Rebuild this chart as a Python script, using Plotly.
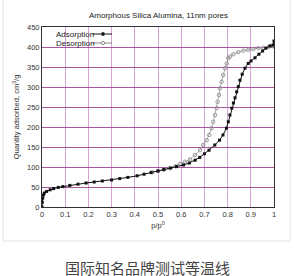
import plotly.graph_objects as go

# ---- data ----
ads_x = [0, 0.001, 0.003, 0.006, 0.01, 0.02, 0.035, 0.05, 0.07, 0.09, 0.12, 0.155, 0.19,
         0.225, 0.26, 0.3, 0.335, 0.37, 0.41, 0.44, 0.47, 0.5, 0.525, 0.555, 0.58, 0.61,
         0.635, 0.66, 0.68, 0.7, 0.72, 0.745, 0.765, 0.78, 0.795, 0.803, 0.81, 0.818,
         0.825, 0.832, 0.839, 0.846, 0.853, 0.863, 0.875, 0.889, 0.901, 0.918, 0.935,
         0.951, 0.965, 0.983, 0.996, 1.0]
ads_y = [0, 12, 22, 30, 35, 39, 43, 46, 49, 51, 54, 57, 60,
         62.5, 65, 67.5, 71, 74, 78, 82, 86, 90, 94, 97.5, 101, 105,
         110, 117, 124, 133, 142, 155, 167, 180, 197, 213, 230, 247,
         260, 273, 288, 301, 317, 332, 347, 359, 365, 373, 382,
         390, 397, 403, 405, 415]

des_x = [1.0, 0.976, 0.954, 0.933, 0.911, 0.889, 0.868, 0.846, 0.825, 0.81, 0.803,
         0.796, 0.789, 0.781, 0.774, 0.767, 0.763, 0.757, 0.753, 0.746, 0.738, 0.731,
         0.721, 0.71, 0.695, 0.681, 0.659, 0.638, 0.616, 0.595, 0.575, 0.55, 0.525,
         0.5, 0.475]
des_y = [401, 400, 398, 397, 395, 393, 391, 387, 382, 376, 372,
         359, 347, 330, 313, 297, 280, 263, 247, 230, 213, 197,
         180, 167, 155, 142, 130, 119, 113, 108, 102, 97, 93,
         90, 87]

x_ticks = [0, 0.1, 0.2, 0.3, 0.4, 0.5, 0.6, 0.7, 0.8, 0.9, 1]
x_tick_text = ["0", "0.1", "0.2", "0.3", "0.4", "0.5", "0.6", "0.7", "0.8", "0.9", "1"]
y_ticks = [0, 50, 100, 150, 200, 250, 300, 350, 400, 450]

title_text = "Amorphous Silica Alumina, 11nm pores"
x_title = "p/p<sup>0</sup>"
y_title = "Quantity adsorbed, cm<sup>3</sup>/g"
legend_names = ["Adsorption", "Desorption"]
caption = "国际知名品牌测试等温线"

FONT = "Liberation Sans, Arial, sans-serif"

fig = go.Figure()
fig.add_trace(go.Scatter(
    x=des_x, y=des_y, mode="lines+markers", name=legend_names[1],
    line=dict(color="#9a9a9a", width=0.8),
    marker=dict(symbol="circle-open", size=3.5, color="#8f8f8f", line=dict(width=0.9)),
    showlegend=False,
))
fig.add_trace(go.Scatter(
    x=ads_x, y=ads_y, mode="lines+markers", name=legend_names[0],
    line=dict(color="#111111", width=1),
    marker=dict(symbol="square", size=3, color="#111111"),
    showlegend=False,
))

fig.update_xaxes(
    range=[0, 1], tickvals=x_ticks, ticktext=x_tick_text,
    showgrid=True, gridcolor="#d7a3d7", gridwidth=1,
    showline=True, linecolor="#333333", linewidth=1, mirror=True,
    ticks="", zeroline=False,
    tickfont=dict(family=FONT, size=7.5, color="#333333"),
    title=dict(text=x_title, font=dict(family=FONT, size=7.5, color="#333333"), standoff=4),
)
fig.update_yaxes(
    range=[0, 450], tickvals=y_ticks,
    showgrid=True, gridcolor="#a8579f", gridwidth=1,
    showline=True, linecolor="#333333", linewidth=1, mirror=True,
    ticks="", zeroline=False,
    tickfont=dict(family=FONT, size=7.5, color="#333333"),
    title=dict(text=y_title, font=dict(family=FONT, size=7.5, color="#333333"), standoff=6),
)

shapes = [
    # light card border
    dict(type="rect", xref="paper", yref="paper", x0=-0.168, x1=1.069, y0=-0.189, y1=1.2,
         line=dict(color="#e4e4e4", width=1), fillcolor="rgba(0,0,0,0)", layer="below"),
    # legend samples
    dict(type="line", xref="paper", yref="paper", x0=0.216, x1=0.302, y0=0.961, y1=0.961,
         line=dict(color="#111111", width=1)),
    dict(type="rect", xref="paper", yref="paper", x0=0.258, x1=0.268, y0=0.953, y1=0.969,
         line=dict(color="#111111", width=0.5), fillcolor="#111111"),
    dict(type="line", xref="paper", yref="paper", x0=0.216, x1=0.302, y0=0.911, y1=0.911,
         line=dict(color="#8a8a8a", width=1)),
    dict(type="circle", xref="paper", yref="paper", x0=0.256, x1=0.270, y0=0.902, y1=0.920,
         line=dict(color="#8a8a8a", width=1), fillcolor="white"),
]

annotations = [
    dict(text=legend_names[0], xref="paper", yref="paper", x=0.05, y=0.961,
         xanchor="left", yanchor="middle", showarrow=False,
         font=dict(family=FONT, size=8, color="#222222")),
    dict(text=legend_names[1], xref="paper", yref="paper", x=0.05, y=0.911,
         xanchor="left", yanchor="middle", showarrow=False,
         font=dict(family=FONT, size=8, color="#222222")),
    dict(text=caption, xref="paper", yref="paper", x=(147 - 42) / 232, y=(207 - 267) / 180,
         xanchor="center", yanchor="middle", showarrow=False,
         font=dict(family="Noto Sans CJK SC", size=15, color="#444444")),
]

fig.update_layout(
    width=294, height=276,
    margin=dict(l=42, r=20, t=27, b=69),
    paper_bgcolor="white", plot_bgcolor="white",
    title=dict(text=title_text, x=(158.5) / 294, xanchor="center", y=1 - 15.5 / 276, yanchor="middle",
               font=dict(family=FONT, size=8, color="#222222")),
    shapes=shapes, annotations=annotations,
    showlegend=False,
)

fig.write_html("out.html")
